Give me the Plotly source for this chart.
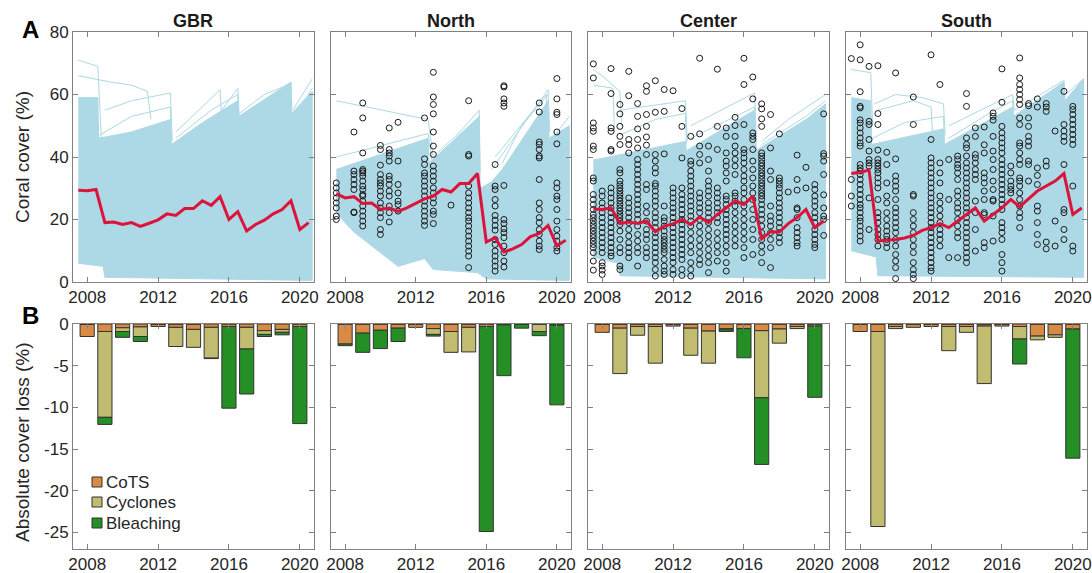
import plotly.graph_objects as go

# ---------------- data ----------------
regions = ["GBR", "North", "Center", "South"]
years = [2007.5, 2008.0, 2008.5, 2009.0, 2009.5, 2010.0, 2010.5, 2011.0, 2011.5,
         2012.0, 2012.5, 2013.0, 2013.5, 2014.0, 2014.5, 2015.0, 2015.5, 2016.0,
         2016.5, 2017.0, 2017.5, 2018.0, 2018.5, 2019.0, 2019.5, 2020.0, 2020.5]
bar_years = [2008, 2009, 2010, 2011, 2012, 2013, 2014, 2015, 2016, 2017, 2018, 2019, 2020]
x_ticks = [2008, 2012, 2016, 2020]
y_ticks_cover = [0, 20, 40, 60, 80]
y_ticks_loss = [-25, -20, -15, -10, -5, 0]
y_ticktext_loss = ["-25", "-20", "-15", "-10", "-5", "0"]
causes = ["CoTS", "Cyclones", "Bleaching"]

# mean coral cover (red line)
gbr_mean = [29.4, 29.2, 29.6, 19.0, 19.2, 18.4, 19.0, 17.8, 18.8, 19.9, 21.8, 21.3, 23.5, 23.5,
            26.0, 24.5, 27.3, 20.0, 22.5, 16.3, 18.4, 19.8, 21.8, 23.2, 26.0, 16.8, 19.0]
north_mean = [28.3, 26.9, 27.3, 25.1, 25.3, 23.2, 23.7, 22.6, 23.7, 25.1, 26.6, 27.5, 29.6, 28.8,
              31.5, 31.5, 34.7, 12.8, 14.2, 9.6, 10.6, 12.0, 14.5, 15.5, 18.1, 11.5, 13.4]
center_mean = [23.4, 23.2, 23.7, 18.7, 19.2, 18.7, 19.5, 16.1, 17.9, 18.6, 20.0, 18.4, 20.8, 19.0,
               21.6, 23.7, 25.9, 24.8, 27.5, 13.8, 16.1, 16.0, 18.7, 20.6, 23.2, 17.4, 19.5]
south_mean = [34.7, 35.1, 35.8, 13.1, 13.4, 13.6, 14.1, 14.9, 16.5, 17.4, 18.7, 17.4, 19.5, 21.6,
              23.7, 19.5, 21.6, 23.7, 26.4, 24.1, 26.6, 29.1, 30.7, 32.3, 34.7, 21.6, 23.7]

# envelope of simulated reef trajectories (light blue mass)
gbr_band_up_x = [2007.5, 2008.6, 2008.65, 2010.5, 2012.7, 2012.75, 2014.5, 2016.5, 2016.55, 2019.5, 2019.55, 2020.7]
gbr_band_up_y = [59.0, 59.0, 46.0, 48.0, 52.0, 44.0, 51.0, 58.0, 53.0, 64.0, 54.0, 61.0]
gbr_band_lo_x = [2007.5, 2008.9, 2009.0, 2012.7, 2020.7]
gbr_band_lo_y = [6.0, 5.0, 1.5, 1.2, 0.5]

north_band_up_x = [2007.5, 2012.7, 2012.75, 2015.6, 2015.65, 2016.3, 2016.9, 2019.5, 2019.55, 2020.7]
north_band_up_y = [36.0, 46.0, 38.0, 53.0, 30.0, 32.0, 36.0, 58.0, 46.0, 50.0]
north_band_lo_x = [2007.5, 2008.5, 2011.0, 2012.5, 2013.0, 2015.5, 2016.0, 2020.7]
north_band_lo_y = [22.0, 16.0, 5.0, 7.5, 4.0, 3.0, 1.0, 0.5]

center_band_up_x = [2007.5, 2012.7, 2012.75, 2016.6, 2016.65, 2019.5, 2020.6]
center_band_up_y = [39.0, 45.0, 42.0, 55.0, 42.0, 52.0, 57.0]
center_band_lo_x = [2007.5, 2008.9, 2009.0, 2020.6]
center_band_lo_y = [8.0, 6.0, 2.0, 1.0]

south_band_up_x = [2007.5, 2008.6, 2008.65, 2012.7, 2012.75, 2016.6, 2016.65, 2019.5, 2019.55, 2020.6]
south_band_up_y = [59.0, 58.0, 44.0, 49.0, 44.0, 56.0, 53.0, 64.0, 58.0, 65.0]
south_band_lo_x = [2007.5, 2008.9, 2009.0, 2020.6]
south_band_lo_y = [10.0, 8.0, 2.0, 1.5]

# a few individual outlying trajectories
gbr_traj = [([2007.5, 2008.6, 2008.8], [71, 69, 46]),
            ([2007.5, 2009.3, 2010.5, 2011.4, 2011.6], [66, 64, 63, 61, 52]),
            ([2009.0, 2010.5, 2012.7, 2012.8], [55, 58, 60.5, 45]),
            ([2013.0, 2015.5, 2015.6], [48, 61.5, 52]),
            ([2015.6, 2016.5, 2016.6], [55, 62, 50]),
            ([2019.6, 2020.7], [55, 65]),
            ([2008.7, 2010.5, 2012.7, 2012.75], [47, 53, 56, 46]),
            ([2013.0, 2015.0, 2016.5, 2016.55], [46, 55, 60, 54]),
            ([2016.6, 2018.0, 2019.5, 2019.55], [54, 60, 63.5, 56]),
            ([2019.6, 2020.7], [52, 62])]
north_traj = [([2007.5, 2012.7, 2013.0], [58, 52, 40]),
              ([2007.5, 2012.7, 2013.0], [40, 47.5, 36]),
              ([2016.3, 2019.5, 2019.6], [36, 61.5, 48]),
              ([2016.5, 2019.4, 2019.5], [40, 60, 45]),
              ([2019.6, 2020.7], [45, 53]),
              ([2013.0, 2014.5, 2015.6, 2015.65], [40, 48, 55, 35]),
              ([2016.9, 2018.0, 2019.5], [38, 50, 60])]
center_traj = [([2007.5, 2008.0, 2009.0, 2009.1], [68, 66, 61, 50]),
               ([2007.5, 2008.6, 2008.7], [63, 62, 48]),
               ([2009.0, 2012.7, 2012.8], [55, 58, 45]),
               ([2013.0, 2016.6, 2016.7], [50, 60.5, 45]),
               ([2013.0, 2016.6, 2016.7], [46, 56, 42]),
               ([2017.0, 2019.5, 2020.6], [44, 53, 58]),
               ([2009.0, 2011.0, 2012.7, 2012.75], [47, 52, 54, 44]),
               ([2017.0, 2018.5, 2020.6], [45, 52, 60])]
south_traj = [([2007.5, 2008.6, 2008.7], [68, 67, 50]),
              ([2008.8, 2010.0, 2011.5, 2012.7, 2012.8], [57, 60, 59, 57, 47]),
              ([2009.0, 2011.0, 2012.0, 2012.1], [55, 58, 56, 46]),
              ([2013.0, 2016.6, 2016.7], [50, 60, 55]),
              ([2019.6, 2020.6], [60, 65]),
              ([2008.7, 2010.5, 2012.7, 2012.75], [46, 51, 53, 45]),
              ([2013.0, 2015.0, 2016.6, 2016.65], [46, 53, 58, 54]),
              ([2016.7, 2018.5, 2019.5, 2019.55], [55, 61, 64.5, 59])]

# observed coral cover (circles): survey time and cover values
north_obs_years = [2007.5, 2008.5, 2009.0, 2010.0, 2010.5, 2011.0, 2012.5, 2013.0, 2014.0,
                   2015.0, 2016.5, 2017.0, 2019.0, 2020.0]
north_obs_cover = [
    [31.7, 30.1, 28.5, 26.9, 25.3, 23.7, 21.1, 20.0],
    [48.0, 35.5, 34.4, 32.8, 31.2, 29.6, 22.4, 22.2],
    [57.3, 52.5, 41.3, 36.0, 35.5, 34.9, 33.9, 32.3, 30.7, 29.6, 28.0, 27.5, 25.9, 24.3, 22.7, 21.1, 19.5, 17.9],
    [43.7, 42.4, 37.4, 34.4, 32.8, 31.7, 30.7, 29.1, 27.5, 25.3, 23.7, 22.2, 20.6, 16.8, 15.2],
    [49.3, 42.4, 41.3, 40.3, 38.7, 33.9, 32.8, 31.2, 29.1, 27.5, 24.3, 22.2, 19.2],
    [51.1, 38.7, 31.2, 28.5, 25.9, 24.8, 22.7],
    [52.5, 39.4, 37.6, 34.9, 33.9, 32.3, 30.7, 29.1, 27.5, 25.9, 24.3, 22.7, 21.1, 19.5, 18.1],
    [67.1, 59.2, 56.8, 53.8, 48.0, 43.5, 40.8, 37.1, 35.5, 33.9, 32.3, 30.1, 28.5, 26.9, 25.3, 22.7, 21.6, 18.7],
    [24.6],
    [58.0, 40.8, 40.3, 30.7, 28.5, 26.9, 25.3, 23.7, 22.2, 20.6, 19.5, 17.9, 16.3, 14.7, 13.1, 11.5, 9.9, 8.3, 4.6],
    [37.6, 30.7, 29.6, 26.4, 24.3, 21.3, 19.8, 18.1, 16.6, 13.6, 12.0, 9.9, 8.3, 6.7, 5.1, 3.5],
    [62.8, 62.4, 58.6, 57.3, 56.2, 30.9, 20.0, 18.7, 17.0, 15.8, 14.2, 11.5, 9.4, 6.7, 4.8],
    [57.3, 54.4, 44.8, 44.0, 42.4, 40.3, 39.7, 32.8, 25.3, 23.2, 20.6, 19.0, 16.8, 15.2, 13.1, 11.5, 10.4],
    [65.1, 58.6, 54.3, 53.6, 48.0, 44.2, 31.7, 30.1, 27.5, 26.4, 23.2, 19.5, 16.8, 14.7, 13.1, 11.0, 9.9],
]
center_obs_years = [2007.5, 2008.0, 2008.5, 2009.0, 2009.5, 2010.0, 2010.5, 2011.0, 2011.5, 2012.0,
                    2012.5, 2013.0, 2013.5, 2014.0, 2014.5, 2015.0, 2015.5, 2016.0, 2016.5, 2017.0,
                    2017.5, 2018.0, 2018.5, 2019.0, 2019.5, 2020.0, 2020.5]
center_obs_cover = [
    [69.8, 65.3, 50.9, 49.3, 48.2, 43.5, 42.4, 33.3, 32.3, 28.0, 26.4, 24.8, 23.2, 21.6, 20.6, 19.5, 18.4, 17.4, 16.3, 15.2, 14.2, 13.1, 12.0, 11.0, 9.4, 6.7, 3.8],
    [29.1, 27.5, 25.3, 23.7, 22.2, 20.6, 19.0, 17.4, 15.8, 14.2, 12.6, 11.0, 9.4, 6.2, 5.1, 3.8, 2.4],
    [68.3, 60.3, 49.3, 48.2, 42.4, 41.9, 30.1, 28.5, 26.9, 25.3, 23.7, 22.2, 20.6, 19.0, 17.4, 15.8, 14.2, 12.6, 11.0, 9.4, 8.3],
    [56.8, 53.8, 49.8, 46.6, 44.0, 36.0, 34.9, 32.3, 31.2, 30.1, 29.1, 28.0, 26.9, 25.9, 24.8, 23.7, 22.7, 21.6, 20.6, 19.5, 18.4, 16.3, 13.6, 11.0, 9.4, 5.1, 4.0],
    [67.4, 59.6, 45.6, 44.0, 41.3, 26.9, 25.3, 23.7, 22.2, 20.6, 19.0, 16.8, 14.7, 12.6, 11.0, 9.4, 7.8],
    [57.1, 53.0, 49.0, 45.6, 42.9, 39.2, 37.6, 36.0, 34.4, 32.8, 31.2, 29.6, 28.0, 26.4, 24.8, 23.2, 21.6, 20.0, 17.9, 15.2, 13.1, 11.0, 9.4, 5.1],
    [62.8, 61.0, 53.6, 49.8, 46.4, 43.8, 40.8, 31.2, 29.6, 24.3, 22.2, 19.5, 16.8, 15.2, 13.6, 11.0, 9.4, 7.8],
    [64.4, 54.3, 40.8, 38.7, 36.5, 34.9, 31.5, 30.7, 29.1, 27.5, 25.9, 24.3, 22.2, 20.6, 19.0, 17.4, 15.8, 14.2, 12.6, 11.0, 9.4, 7.8, 6.2, 4.0, 1.9],
    [61.6, 54.6, 41.0, 24.3, 20.6, 19.5, 17.9, 16.3, 14.7, 13.6, 12.6, 11.5, 10.4, 9.4, 7.2, 5.1, 3.5, 2.4],
    [61.2, 30.1, 28.5, 26.9, 25.3, 23.7, 22.2, 20.6, 19.0, 17.4, 15.8, 14.2, 12.6, 11.0, 9.4, 7.8, 6.2, 4.0, 2.4],
    [55.5, 49.8, 39.7, 30.1, 28.0, 26.4, 24.8, 23.2, 21.6, 20.0, 18.4, 16.8, 15.2, 13.6, 12.0, 10.4, 8.8, 7.2, 4.0, 2.1],
    [46.6, 38.7, 37.6, 35.5, 33.9, 32.3, 30.7, 29.1, 27.5, 25.9, 24.3, 22.7, 21.1, 19.5, 17.9, 15.8, 13.6, 11.5, 9.4, 6.2, 4.0, 1.9],
    [71.6, 47.4, 43.5, 40.8, 38.1, 28.5, 26.9, 25.3, 23.7, 22.2, 20.0, 17.9, 15.8, 13.6, 11.5, 9.4, 7.2, 5.6],
    [43.5, 39.2, 35.5, 32.3, 30.7, 29.1, 27.5, 25.3, 23.7, 22.2, 20.6, 19.0, 16.8, 14.7, 12.6, 10.4, 8.3, 6.2, 3.0],
    [68.1, 49.8, 42.4, 30.1, 28.5, 26.9, 25.3, 23.7, 22.2, 20.6, 19.0, 15.8, 13.6, 11.5, 9.4, 6.7],
    [49.3, 46.6, 41.3, 38.7, 37.1, 34.9, 32.3, 27.5, 26.4, 24.8, 23.2, 21.6, 20.0, 18.4, 16.8, 15.2, 13.6, 11.5, 9.4, 6.2, 3.5],
    [52.7, 50.1, 46.6, 43.5, 41.3, 39.2, 37.1, 34.4, 28.5, 27.5, 25.9, 24.3, 22.2, 20.0, 17.9, 15.8, 13.6, 11.5],
    [71.6, 63.2, 50.4, 42.4, 41.3, 39.7, 38.1, 36.0, 33.9, 32.3, 30.1, 28.5, 26.4, 24.3, 22.2, 20.0, 17.9, 15.8, 13.6, 11.0, 7.8],
    [65.6, 58.6, 47.7, 46.6, 45.6, 42.4, 38.7, 36.0, 33.3, 30.7, 28.5, 26.4, 23.2, 20.0, 16.8, 13.6, 8.8],
    [57.0, 55.4, 52.2, 49.8, 41.3, 40.3, 39.2, 38.1, 37.1, 36.0, 34.9, 33.9, 32.8, 31.7, 30.7, 29.6, 28.5, 27.5, 26.4, 24.8, 23.2, 21.6, 20.0, 17.9, 15.8, 13.6, 11.5, 9.4, 6.2],
    [53.6, 42.9, 35.5, 32.8, 24.3, 21.1, 19.5, 17.9, 15.8, 13.6, 11.0, 4.6],
    [47.4, 33.3, 32.3, 31.2, 30.1, 28.5, 26.9, 25.3, 23.7, 22.2, 20.6, 19.0, 17.4, 15.8, 14.2, 12.6],
    [28.8],
    [40.6, 32.8, 29.4, 23.7, 23.2, 20.6, 17.4, 15.8, 14.2, 12.6, 11.5],
    [36.7, 30.1],
    [31.2, 29.6, 27.5, 25.9, 24.3, 22.2, 20.6, 19.0, 16.8, 15.2, 13.6, 12.0, 11.0],
    [53.8, 41.1, 40.3, 38.7, 34.4, 27.9, 23.7, 21.1, 20.0, 14.9],
]
south_obs_years = [2007.5, 2008.0, 2008.5, 2009.0, 2009.5, 2010.0, 2011.0, 2012.0, 2012.5, 2013.0,
                   2013.5, 2014.0, 2014.5, 2015.0, 2015.5, 2016.0, 2016.5, 2017.0, 2017.5, 2018.0,
                   2018.5, 2019.0, 2019.5, 2020.0]
south_obs_cover = [
    [71.5, 32.8, 27.5, 24.3],
    [75.9, 71.1, 60.9, 56.2, 55.7, 51.9, 50.9, 49.3, 47.7, 46.1, 44.5, 43.5, 37.6, 36.5, 35.5, 34.4, 32.8, 31.2, 29.6, 28.0, 26.4, 24.8, 23.7, 22.2, 20.6, 19.5, 17.9, 16.3, 14.7, 13.1],
    [69.0, 51.4, 50.4, 45.6, 41.9, 39.2, 38.1, 37.1, 26.9, 16.8],
    [69.2, 53.9, 50.4, 42.2, 39.2, 38.1, 37.1, 36.0, 34.9, 33.3, 31.7, 30.1, 26.4, 22.2, 20.6, 19.0, 16.8, 15.2, 13.6, 11.5],
    [41.5, 37.6, 31.7, 27.5, 25.3, 22.2, 20.0, 17.9, 16.3, 14.7, 13.6, 12.6, 11.0],
    [66.9, 39.4, 33.9, 32.3, 30.7, 29.1, 26.4, 23.7, 22.2, 20.6, 19.0, 17.4, 15.8, 13.6, 11.5, 8.8, 6.7, 4.6, 1.1],
    [59.2, 50.4, 28.0, 27.5, 22.2, 20.0, 17.9, 15.8, 13.6, 11.5, 9.4, 6.2, 4.0, 2.4, 1.1],
    [72.7, 45.6, 39.7, 38.1, 36.5, 34.9, 33.3, 31.7, 30.1, 28.5, 26.9, 25.3, 23.7, 22.2, 20.6, 19.0, 17.4, 15.8, 14.2, 12.6, 11.0, 9.4, 7.8, 6.2, 4.6, 3.5],
    [63.2, 38.1, 34.9, 31.7, 27.5, 25.3, 23.2, 21.1, 19.0, 16.8, 15.2, 13.6, 11.5],
    [39.2, 26.4, 7.8],
    [40.3, 39.2, 37.6, 36.5, 34.9, 32.8, 29.1, 27.5, 25.3, 23.7, 22.2, 20.0, 17.9, 15.8, 14.2, 7.8],
    [60.3, 56.2, 46.1, 44.0, 42.9, 40.3, 38.1, 36.5, 34.9, 33.3, 31.7, 30.1, 28.5, 26.9, 25.3, 23.7, 22.2, 20.6, 19.0, 17.4, 15.8, 14.2, 12.6, 11.0, 9.4, 7.8, 6.2],
    [49.3, 46.6, 40.8, 39.7, 38.1, 36.0, 34.4, 32.8, 25.9, 22.2, 16.8, 9.9],
    [49.6, 43.9, 41.3, 34.9, 33.3, 31.7, 29.1, 26.4, 22.2, 21.6, 12.6, 11.0],
    [54.1, 53.0, 51.8, 46.6, 41.9, 39.2, 36.0, 32.3, 29.6, 26.4, 25.9, 21.1, 13.1],
    [68.2, 57.5, 49.8, 47.7, 46.1, 44.5, 42.9, 41.3, 39.2, 37.6, 36.0, 34.4, 32.8, 31.2, 29.6, 28.0, 26.4, 24.8, 23.2, 19.0, 17.4, 15.8, 13.6, 8.8, 6.2, 3.5],
    [37.1, 34.9, 32.3, 30.7, 29.6, 28.5],
    [71.7, 65.3, 63.2, 61.6, 60.0, 58.4, 56.8, 52.5, 50.4, 44.5, 43.5, 41.3, 39.2, 37.6, 33.3, 32.3, 30.7, 28.5, 26.4, 24.3, 22.2, 20.6, 17.4],
    [57.1, 56.4, 52.5, 49.8, 46.6, 45.0, 43.5, 38.7, 37.6, 32.3],
    [58.6, 56.0, 36.5, 34.1, 31.2, 24.3, 22.7, 19.0, 15.2, 12.0],
    [57.1, 56.0, 54.6, 38.7, 37.1, 12.8, 10.6],
    [48.3, 19.5, 11.5],
    [61.0, 50.4, 48.3, 46.6, 45.0, 37.6, 23.2, 22.2, 16.8, 13.6],
    [56.2, 55.2, 53.6, 52.0, 50.4, 48.8, 47.2, 45.6, 44.0, 30.7, 11.5, 9.9],
]

# absolute cover loss by cause (%), 2008-2020
gbr_cots = [-1.5, -0.9, -0.45, -0.35, -0.3, -0.4, -0.65, -0.4, -0.3, -0.4, -0.8, -0.65, -0.3]
gbr_cyclones = [0, -10.3, -0.45, -1.15, 0, -2.3, -2.15, -3.7, 0, -2.6, -0.45, -0.35, 0]
gbr_bleaching = [0, -0.85, -0.7, -0.6, 0, 0, 0, -0.05, -9.8, -5.4, -0.25, -0.3, -11.65]
north_cots = [-2.4, -1.1, -0.75, -0.5, -0.4, -0.55, -0.9, -0.4, -0.3, -0.1, -0.05, -0.05, -0.15]
north_cyclones = [0, 0, 0, 0, 0, -0.7, -2.5, -2.95, 0, 0, 0, -0.85, 0]
north_bleaching = [-0.2, -2.3, -2.2, -1.6, 0, -0.2, 0, 0, -24.6, -6.1, -0.45, -0.5, -9.55]
center_cots = [-1.0, -0.5, -0.3, -0.3, -0.25, -0.5, -0.85, -0.55, -0.55, -0.8, -0.6, -0.3, -0.25]
center_cyclones = [0, -5.45, -1.05, -4.4, 0, -3.25, -3.85, -0.15, 0, -8.05, -1.7, -0.25, 0]
center_bleaching = [0, 0, 0, 0, 0, 0, 0, -0.2, -3.5, -8.0, 0, 0, -8.55]
south_cots = [-0.9, -0.9, -0.3, -0.4, -0.3, -0.3, -0.3, -0.25, -0.25, -0.3, -1.45, -1.3, -0.6]
south_cyclones = [0, -23.4, -0.25, 0, 0, -2.9, -0.7, -6.9, 0, -1.5, -0.45, -0.3, 0]
south_bleaching = [0, 0, 0, 0, 0, 0, 0, 0, 0, -3.0, 0, 0, -15.5]

# ---------------- styling ----------------
FONT = "Liberation Sans, Arial, Helvetica, sans-serif"
BLUE = "#ADD8E6"
RED = "#DC143C"
COL_COTS = "#D98A45"
COL_CYC = "#C2BC70"
COL_BL = "#248F24"
cause_colors = [COL_COTS, COL_CYC, COL_BL]
AXCOL = "#808080"
TXT = "#262626"

means = [gbr_mean, north_mean, center_mean, south_mean]
bands = [(gbr_band_up_x, gbr_band_up_y, gbr_band_lo_x, gbr_band_lo_y),
         (north_band_up_x, north_band_up_y, north_band_lo_x, north_band_lo_y),
         (center_band_up_x, center_band_up_y, center_band_lo_x, center_band_lo_y),
         (south_band_up_x, south_band_up_y, south_band_lo_x, south_band_lo_y)]
trajs = [gbr_traj, north_traj, center_traj, south_traj]
obs = [None, (north_obs_years, north_obs_cover), (center_obs_years, center_obs_cover),
       (south_obs_years, south_obs_cover)]
losses = [(gbr_cots, gbr_cyclones, gbr_bleaching), (north_cots, north_cyclones, north_bleaching),
          (center_cots, center_cyclones, center_bleaching), (south_cots, south_cyclones, south_bleaching)]

W, H = 1092, 573
xdom = [(73 / W, 314 / W), (331 / W, 571 / W), (588 / W, 829 / W), (846 / W, 1087 / W)]
ydom_top = (1 - 282 / H, 1 - 32 / H)
ydom_bot = (1 - 549 / H, 1 - 324 / H)

fig = go.Figure()
layout = dict(
    width=W, height=H, autosize=False,
    margin=dict(l=0, r=0, t=0, b=0, pad=0),
    paper_bgcolor="white", plot_bgcolor="white",
    font=dict(family=FONT, size=17, color=TXT),
    barmode="relative",
    showlegend=False,
    hovermode=False,
)


def axis_common():
    return dict(showline=True, linecolor=AXCOL, linewidth=1, mirror="ticks",
                ticks="inside", ticklen=5, tickcolor=AXCOL, tickwidth=1,
                showgrid=False, zeroline=False, automargin=False,
                tickfont=dict(size=17, family=FONT, color=TXT))


for i, name in enumerate(regions):
    top = i + 1
    bot = i + 5
    xt = "x" if top == 1 else f"x{top}"
    yt = "y" if top == 1 else f"y{top}"
    xb, yb = f"x{bot}", f"y{bot}"

    ux, uy, lx, ly = bands[i]
    fig.add_trace(go.Scatter(x=ux + lx[::-1], y=uy + ly[::-1], fill="toself", fillcolor=BLUE,
                             mode="lines", line=dict(color=BLUE, width=1),
                             xaxis=xt, yaxis=yt))
    for tx, ty in trajs[i]:
        fig.add_trace(go.Scatter(x=tx, y=ty, mode="lines", line=dict(color=BLUE, width=1),
                                 xaxis=xt, yaxis=yt))
    if obs[i] is not None:
        oy_years, oy_vals = obs[i]
        px, py = [], []
        for yr, vals in zip(oy_years, oy_vals):
            px += [yr] * len(vals)
            py += vals
        fig.add_trace(go.Scatter(x=px, y=py, mode="markers",
                                 marker=dict(symbol="circle-open", size=6, color="#1a1a1a",
                                             line=dict(width=1)),
                                 xaxis=xt, yaxis=yt))
    fig.add_trace(go.Scatter(x=years, y=means[i], mode="lines", line=dict(color=RED, width=3),
                             xaxis=xt, yaxis=yt))

    for vals, col, lab in zip(losses[i], cause_colors, causes):
        fig.add_trace(go.Bar(x=bar_years, y=vals, width=0.8, name=lab,
                             marker=dict(color=col, line=dict(color="#333333", width=1)),
                             xaxis=xb, yaxis=yb))

    ax_t = axis_common(); ax_t.update(domain=xdom[i], range=[2007.2, 2020.8], tickvals=x_ticks, anchor=yt)
    ay_t = axis_common(); ay_t.update(domain=ydom_top, range=[0, 80], tickvals=y_ticks_cover,
                                      anchor=xt, showticklabels=(i == 0))
    ax_b = axis_common(); ax_b.update(domain=xdom[i], range=[2007.2, 2020.8], tickvals=x_ticks, anchor=yb)
    ay_b = axis_common(); ay_b.update(domain=ydom_bot, range=[-27, 0], tickvals=y_ticks_loss,
                                      ticktext=y_ticktext_loss, anchor=xb, showticklabels=(i == 0))
    layout["xaxis" if top == 1 else f"xaxis{top}"] = ax_t
    layout["yaxis" if top == 1 else f"yaxis{top}"] = ay_t
    layout[f"xaxis{bot}"] = ax_b
    layout[f"yaxis{bot}"] = ay_b

annotations = []
for i, name in enumerate(regions):
    annotations.append(dict(text=f"<b>{name}</b>", x=(xdom[i][0] + xdom[i][1]) / 2, y=1 - 21 / H,
                            xref="paper", yref="paper", showarrow=False,
                            font=dict(size=18, family=FONT, color="#1a1a1a"),
                            xanchor="center", yanchor="middle"))
annotations += [
    dict(text="<b>A</b>", x=30 / W, y=1 - 30 / H, xref="paper", yref="paper", showarrow=False,
         font=dict(size=24, family=FONT, color="black"), xanchor="center", yanchor="middle"),
    dict(text="<b>B</b>", x=30 / W, y=1 - 315 / H, xref="paper", yref="paper", showarrow=False,
         font=dict(size=24, family=FONT, color="black"), xanchor="center", yanchor="middle"),
    dict(text="Coral cover (%)", x=22 / W, y=1 - 157 / H, xref="paper", yref="paper",
         showarrow=False, textangle=-90, font=dict(size=19, family=FONT, color=TXT),
         xanchor="center", yanchor="middle"),
    dict(text="Absolute cover loss (%)", x=22 / W, y=1 - 442 / H, xref="paper", yref="paper",
         showarrow=False, textangle=-90, font=dict(size=19, family=FONT, color=TXT),
         xanchor="center", yanchor="middle"),
]

# legend (inside GBR loss panel): small swatches + labels
shapes = []
legend_rows_px = [482, 502, 523]
for lab, col, ypx in zip(causes, cause_colors, legend_rows_px):
    shapes.append(dict(type="rect", xref="paper", yref="paper",
                       x0=92 / W, x1=102 / W, y0=1 - (ypx + 5) / H, y1=1 - (ypx - 5) / H,
                       fillcolor=col, line=dict(color="#333333", width=1)))
    annotations.append(dict(text=lab, x=104 / W, y=1 - ypx / H, xref="paper", yref="paper",
                            showarrow=False, xanchor="left", yanchor="middle",
                            font=dict(size=17, family=FONT, color=TXT)))

layout["annotations"] = annotations
layout["shapes"] = shapes
fig.update_layout(**layout)
fig.write_html("out.html", config={"displayModeBar": False},
               post_script="document.body.style.margin='0';document.body.style.overflow='hidden';")
